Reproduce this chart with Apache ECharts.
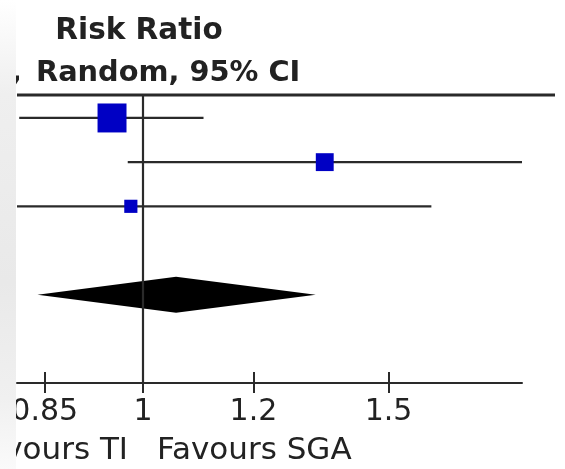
<!DOCTYPE html>
<html>
<head>
<meta charset="utf-8">
<script src="https://cdn.jsdelivr.net/npm/echarts@6/dist/echarts.min.js"></script>
<style>
  html, body { margin: 0; padding: 0; background: #fff; }
  #chart { width: 565px; height: 469px; }
</style>
</head>
<body>
<div id="chart"></div>
<script>
// 每个研究的风险比和95%置信区间
var studyRR = [0.95, 1.35, 0.98];
var studyLow = [0.815, 0.975, 0.79];
var studyHigh = [1.105, 1.87, 1.61];
var studyWeight = [63, 24, 13];
// 合并效应（菱形）: 下限, 点估计, 上限
var pooled = [0.84, 1.056, 1.33];
// 坐标轴刻度
var tickValues = [0.85, 1, 1.2, 1.5];

var chart = echarts.init(document.getElementById('chart'));

var ln = Math.log;
var studyData = studyRR.map(function (v, i) {
    return [i + 1, ln(studyLow[i]), ln(studyHigh[i]), ln(v), studyWeight[i]];
});
var tickLn = tickValues.map(ln);

var option = {
    animation: false,
    grid: { left: 17, right: 43, top: 95, height: 288 },
    xAxis: [{
        type: 'value',
        min: ln(0.812),
        max: ln(1.87),
        position: 'bottom',
        splitLine: { show: false },
        axisLine: { lineStyle: { color: '#2a2a2a', width: 2 } },
        axisTick: { customValues: tickLn, length: 10, lineStyle: { color: '#2a2a2a', width: 2 } },
        axisLabel: {
            customValues: tickLn,
            margin: 14,
            fontSize: 30,
            fontFamily: 'DejaVu Sans',
            color: '#222',
            formatter: function (v) { return String(+Math.exp(v).toFixed(2)); }
        }
    }, {
        // 向上的刻度线
        type: 'value',
        min: ln(0.812),
        max: ln(1.87),
        position: 'bottom',
        splitLine: { show: false },
        axisLine: { show: false },
        axisTick: { customValues: tickLn, inside: true, length: 11, lineStyle: { color: '#2a2a2a', width: 2 } },
        axisLabel: { show: false }
    }],
    yAxis: { type: 'value', inverse: true, min: 0.48, max: 7.0, show: false },
    series: [{
        type: 'custom',
        clip: true,
        data: studyData,
        encode: { x: [1, 2, 3], y: 0 },
        renderItem: function (params, api) {
            var y = api.value(0);
            var lo = api.coord([api.value(1), y]);
            var hi = api.coord([api.value(2), y]);
            var c = api.coord([api.value(3), y]);
            var s = 3.65 * Math.sqrt(api.value(4));
            return {
                type: 'group',
                children: [{
                    type: 'line',
                    shape: { x1: lo[0], y1: lo[1], x2: hi[0], y2: hi[1] },
                    style: { stroke: '#2a2a2a', lineWidth: 2.2 }
                }, {
                    type: 'rect',
                    shape: { x: c[0] - s / 2, y: c[1] - s / 2, width: s, height: s },
                    style: { fill: '#0000c4' }
                }]
            };
        },
        markLine: {
            silent: true,
            symbol: 'none',
            label: { show: false },
            lineStyle: { color: '#2a2a2a', width: 2.2, type: 'solid' },
            data: [{ xAxis: 0 }]
        }
    }, {
        type: 'custom',
        data: [[5, ln(pooled[0]), ln(pooled[1]), ln(pooled[2])]],
        encode: { x: [1, 2, 3], y: 0 },
        renderItem: function (params, api) {
            var y = api.value(0);
            var lo = api.coord([api.value(1), y]);
            var c = api.coord([api.value(2), y]);
            var hi = api.coord([api.value(3), y]);
            var h = 18;
            return {
                type: 'polygon',
                shape: { points: [[lo[0], lo[1]], [c[0], c[1] - h], [hi[0], hi[1]], [c[0], c[1] + h]] },
                style: { fill: '#000' }
            };
        }
    }],
    graphic: [
        { type: 'line', shape: { x1: 17, y1: 95, x2: 555, y2: 95 }, style: { stroke: '#2a2a2a', lineWidth: 3 } },
        { type: 'text', x: 139, y: 16, style: { text: 'Risk Ratio', font: 'bold 29.5px "DejaVu Sans"', fill: '#222', textAlign: 'center' } },
        { type: 'text', x: 22, y: 59, style: { text: 'IV,', font: 'bold 28.8px "DejaVu Sans"', fill: '#222', textAlign: 'right' } },
        { type: 'text', x: 36, y: 59, style: { text: 'Random, 95% CI', font: 'bold 28.8px "DejaVu Sans"', fill: '#222', textAlign: 'left' } },
        { type: 'text', x: 128, y: 435, style: { text: 'Favours TI', font: '31px "DejaVu Sans"', fill: '#222', textAlign: 'right' } },
        { type: 'text', x: 157, y: 435, style: { text: 'Favours SGA', font: '31px "DejaVu Sans"', fill: '#222', textAlign: 'left' } },
        {
            type: 'rect', z: 100,
            shape: { x: 0, y: 0, width: 16, height: 469 },
            style: {
                fill: new echarts.graphic.LinearGradient(0, 0, 0, 1, [
                    { offset: 0, color: '#ffffff' },
                    { offset: 0.2, color: '#efefef' },
                    { offset: 0.6, color: '#e9e9e9' },
                    { offset: 0.85, color: '#f0f0f0' },
                    { offset: 1, color: '#fafafa' }
                ])
            }
        }
    ]
};

chart.setOption(option);
</script>
</body>
</html>
